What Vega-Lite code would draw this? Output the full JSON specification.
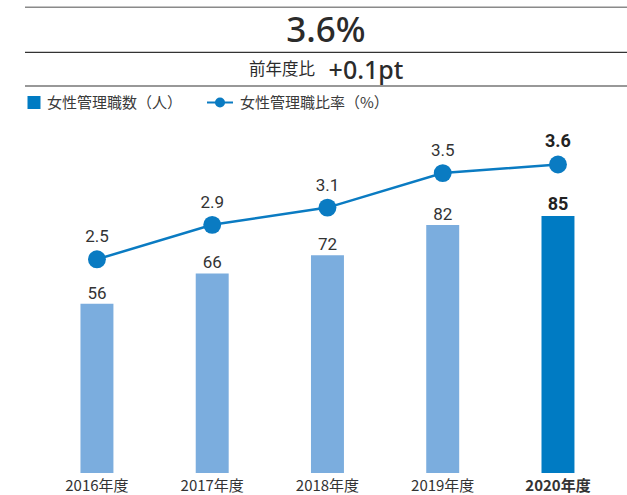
{
  "$schema": "https://vega.github.io/schema/vega-lite/v6.json",
  "width": 627,
  "height": 473,
  "autosize": "none",
  "padding": {"left": 0, "top": 0, "right": 0, "bottom": 22},
  "config": {"view": {"stroke": null}, "font": "Noto Sans CJK JP"},
  "datasets": {
    "main": [
      {"year": "2016年度", "count": 56, "rate": 2.5},
      {"year": "2017年度", "count": 66, "rate": 2.9},
      {"year": "2018年度", "count": 72, "rate": 3.1},
      {"year": "2019年度", "count": 82, "rate": 3.5},
      {"year": "2020年度", "count": 85, "rate": 3.6}
    ],
    "header": [
      {"headline": "3.6%", "compare_label": "前年度比", "compare_value": "+0.1pt", "series_bar": "女性管理職数（人）", "series_line": "女性管理職比率（%）"}
    ]
  },
  "layer": [
    {
      "data": {"name": "main"},
      "encoding": {
        "x": {
          "field": "year",
          "type": "nominal",
          "sort": null,
          "scale": {"paddingInner": 0.714, "paddingOuter": 0.577, "align": 0.605},
          "axis": {
            "title": null,
            "domain": false,
            "ticks": false,
            "labelAngle": 0,
            "labelFont": "Noto Sans CJK JP",
            "labelFontSize": 15,
            "labelColor": "#333333",
            "labelPadding": 5,
            "labelFontWeight": {"condition": {"test": "datum.value == '2020年度'", "value": "bold"}, "value": "normal"}
          }
        }
      },
      "layer": [
        {
          "encoding": {
            "y": {"field": "count", "type": "quantitative", "scale": {"domain": [0, 156.4], "nice": false}, "axis": null}
          },
          "layer": [
            {
              "mark": {"type": "bar"},
              "encoding": {
                "color": {"condition": {"test": "datum.year == '2020年度'", "value": "#007bc3"}, "value": "#7badde"}
              }
            },
            {
              "transform": [{"filter": "datum.year != '2020年度'"}],
              "mark": {"type": "text", "font": "Roboto", "fontSize": 17, "baseline": "alphabetic", "dy": -5, "color": "#333333"},
              "encoding": {"text": {"field": "count", "type": "quantitative"}}
            },
            {
              "transform": [{"filter": "datum.year == '2020年度'"}],
              "mark": {"type": "text", "font": "Roboto", "fontWeight": "bold", "fontSize": 18, "baseline": "alphabetic", "dy": -6, "color": "#222222"},
              "encoding": {"text": {"field": "count", "type": "quantitative"}}
            }
          ]
        },
        {
          "encoding": {
            "y": {"field": "rate", "type": "quantitative", "scale": {"domain": [0.021, 5.508], "nice": false, "zero": false}, "axis": null}
          },
          "layer": [
            {
              "mark": {"type": "line", "color": "#0a7bc2", "strokeWidth": 2.5}
            },
            {
              "mark": {"type": "point", "filled": true, "opacity": 1, "size": 320, "color": "#0a7bc2"}
            },
            {
              "transform": [{"filter": "datum.year != '2020年度'"}],
              "mark": {"type": "text", "font": "Roboto", "fontSize": 17, "baseline": "alphabetic", "dy": -17, "color": "#333333"},
              "encoding": {"text": {"field": "rate", "type": "quantitative", "format": ".1f"}}
            },
            {
              "transform": [{"filter": "datum.year == '2020年度'"}],
              "mark": {"type": "text", "font": "Roboto", "fontWeight": "bold", "fontSize": 18, "baseline": "alphabetic", "dy": -17, "color": "#222222"},
              "encoding": {"text": {"field": "rate", "type": "quantitative", "format": ".1f"}}
            }
          ]
        }
      ],
      "resolve": {"scale": {"y": "independent"}}
    },
    {
      "data": {"name": "header"},
      "layer": [
        {
          "mark": {"type": "rule", "color": "#8a8a8a", "strokeWidth": 1.5},
          "encoding": {
            "x": {"datum": 25, "type": "quantitative", "scale": {"domain": [0, 627], "nice": false, "zero": false}, "axis": null},
            "x2": {"datum": 627},
            "y": {"datum": 7.3, "type": "quantitative", "scale": {"domain": [0, 473], "reverse": true, "nice": false, "zero": false}, "axis": null}
          }
        },
        {
          "mark": {"type": "rule", "color": "#333333", "strokeWidth": 1.2},
          "encoding": {
            "x": {"datum": 25, "type": "quantitative"},
            "x2": {"datum": 627},
            "y": {"datum": 52.3, "type": "quantitative"}
          }
        },
        {
          "mark": {"type": "rule", "color": "#333333", "strokeWidth": 1.2},
          "encoding": {
            "x": {"datum": 25, "type": "quantitative"},
            "x2": {"datum": 627},
            "y": {"datum": 86, "type": "quantitative"}
          }
        },
        {
          "mark": {"type": "text", "font": "Noto Sans", "fontSize": 35, "fontWeight": 500, "align": "center", "baseline": "alphabetic", "color": "#2b2b2b"},
          "encoding": {
            "x": {"datum": 326, "type": "quantitative"},
            "y": {"datum": 42, "type": "quantitative"},
            "text": {"field": "headline"}
          }
        },
        {
          "mark": {"type": "text", "font": "Noto Sans CJK JP", "fontSize": 16.5, "align": "center", "baseline": "alphabetic", "color": "#2b2b2b"},
          "encoding": {
            "x": {"datum": 282, "type": "quantitative"},
            "y": {"datum": 75, "type": "quantitative"},
            "text": {"field": "compare_label"}
          }
        },
        {
          "mark": {"type": "text", "font": "Noto Sans", "fontSize": 25, "fontWeight": 500, "align": "center", "baseline": "alphabetic", "color": "#2b2b2b"},
          "encoding": {
            "x": {"datum": 366, "type": "quantitative"},
            "y": {"datum": 78.5, "type": "quantitative"},
            "text": {"field": "compare_value"}
          }
        },
        {
          "mark": {"type": "point", "shape": "square", "filled": true, "opacity": 1, "size": 169, "color": "#007bc3"},
          "encoding": {
            "x": {"datum": 34, "type": "quantitative"},
            "y": {"datum": 102.5, "type": "quantitative"}
          }
        },
        {
          "mark": {"type": "text", "font": "Noto Sans CJK JP", "fontSize": 15, "align": "left", "baseline": "middle", "color": "#3a3a3a"},
          "encoding": {
            "x": {"datum": 47, "type": "quantitative"},
            "y": {"datum": 102.5, "type": "quantitative"},
            "text": {"field": "series_bar"}
          }
        },
        {
          "mark": {"type": "rule", "color": "#0a7bc2", "strokeWidth": 2},
          "encoding": {
            "x": {"datum": 207, "type": "quantitative"},
            "x2": {"datum": 233},
            "y": {"datum": 102.5, "type": "quantitative"}
          }
        },
        {
          "mark": {"type": "point", "shape": "circle", "filled": true, "opacity": 1, "size": 100, "color": "#0a7bc2"},
          "encoding": {
            "x": {"datum": 220, "type": "quantitative"},
            "y": {"datum": 102.5, "type": "quantitative"}
          }
        },
        {
          "mark": {"type": "text", "font": "Noto Sans CJK JP", "fontSize": 15, "align": "left", "baseline": "middle", "color": "#3a3a3a"},
          "encoding": {
            "x": {"datum": 240, "type": "quantitative"},
            "y": {"datum": 102.5, "type": "quantitative"},
            "text": {"field": "series_line"}
          }
        }
      ]
    }
  ],
  "resolve": {"scale": {"x": "independent", "y": "independent"}}
}
